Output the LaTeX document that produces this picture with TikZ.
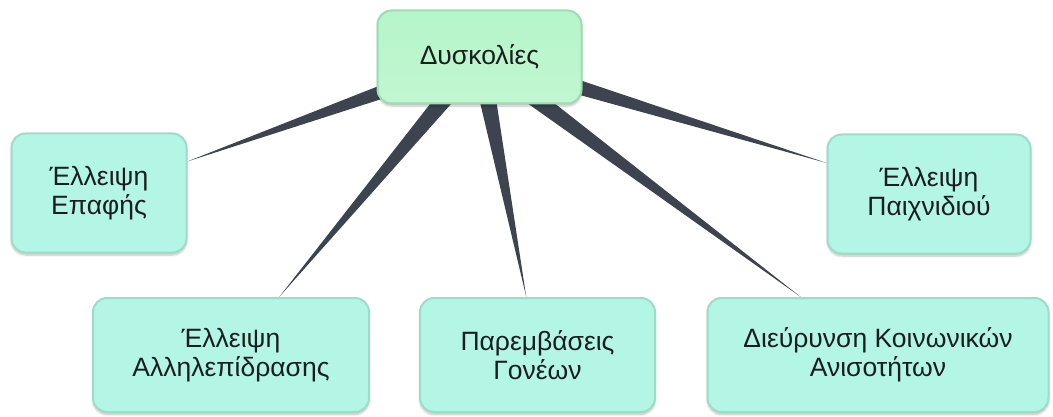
\documentclass[tikz,border=0pt]{standalone}
\usepackage{fontspec}
\setmainfont{Liberation Sans}
\usetikzlibrary{calc,shadows.blur,backgrounds}
\definecolor{wedge}{HTML}{3D4450}
\definecolor{topfill}{HTML}{B6F5C9}
\definecolor{topline}{HTML}{9ADDB0}
\definecolor{leaffill}{HTML}{B4F6E6}
\definecolor{leafline}{HTML}{9CDCC8}
\definecolor{ink}{HTML}{1A1E1E}
\tikzset{
  box/.style={rounded corners=14pt, line width=2pt, align=center, text=ink,
    font=\fontsize{26.5}{29}\selectfont, inner sep=0pt,
    blur shadow={shadow xshift=0pt, shadow yshift=-2.5pt, shadow blur steps=6, shadow opacity=25}},
  rootbox/.style={box, fill=topfill, draw=topline, top color=topfill, bottom color=topfill!85!white},
  leafbox/.style={box, fill=leaffill, draw=leafline},
  spoke/.style={fill=wedge, draw=none}
}
\begin{document}
\begin{tikzpicture}[x=1pt,y=-1pt]
\useasboundingbox (0,0) rectangle (1053,417);

% central topic
\node[rootbox, minimum width=204pt, minimum height=93pt] (c) at (479.5,57) {Δυσκολίες};

% sub-topics
\node[leafbox, minimum width=175pt, minimum height=119pt] (a) at (99,193) {Έλλειψη\\Επαφής};
\node[leafbox, minimum width=276pt, minimum height=114pt] (b) at (231,355) {Έλλειψη\\Αλληλεπίδρασης};
\node[leafbox, minimum width=235pt, minimum height=114pt] (m) at (537.5,355) {Παρεμβάσεις\\Γονέων};
\node[leafbox, minimum width=341pt, minimum height=114pt] (d) at (878,355) {Διεύρυνση Κοινωνικών\\Ανισοτήτων};
\node[leafbox, minimum width=203pt, minimum height=119pt] (e) at (929,194) {Έλλειψη\\Παιχνιδιού};

% tapered spokes from the centre, kept behind the boxes
\begin{scope}[on background layer]
\foreach \n in {a,b,m,d,e}{
  \path (c.center) -- (\n) coordinate[pos=1] (tip-\n);
  \fill[spoke] (tip-\n) -- ($(c.center)!10pt!90:(tip-\n)$) -- ($(c.center)!10pt!-90:(tip-\n)$) -- cycle;
}
\end{scope}
\end{tikzpicture}
\end{document}
